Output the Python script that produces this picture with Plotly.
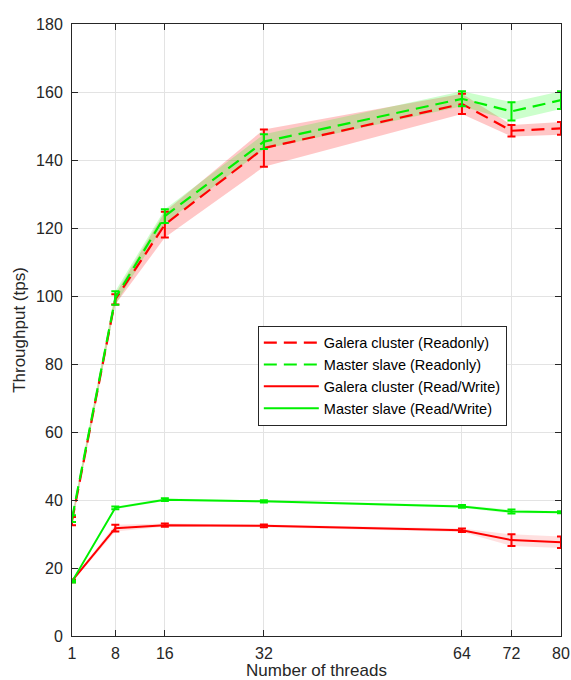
import plotly.graph_objects as go

threads = [1, 8, 16, 32, 64, 72, 80]
galera_ro = [33.8, 99.0, 121.0, 143.5, 156.5, 148.6, 149.3]
galera_ro_err = [1.2, 1.5, 3.8, 5.5, 3.0, 1.7, 1.9]
master_ro = [34.5, 99.4, 123.5, 145.4, 158.0, 154.3, 157.6]
master_ro_err = [1.0, 2.0, 2.0, 2.2, 2.2, 2.7, 2.6]
galera_rw = [16.2, 31.7, 32.6, 32.4, 31.1, 28.2, 27.6]
galera_rw_err = [0.4, 1.0, 0.5, 0.4, 0.5, 1.7, 1.7]
master_rw = [16.0, 37.7, 40.1, 39.6, 38.1, 36.6, 36.4]
master_rw_err = [0.3, 0.4, 0.4, 0.3, 0.4, 0.6, 0.3]

RED = "#ff0000"
GREEN = "#00f000"
series = [
    ("Galera cluster (Readonly)", galera_ro, galera_ro_err, RED, "rgba(255,0,0,0.22)", "13px,7px", 2.2),
    ("Master slave (Readonly)", master_ro, master_ro_err, GREEN, "rgba(0,255,0,0.2)", "13px,7px", 2.2),
    ("Galera cluster (Read/Write)", galera_rw, galera_rw_err, RED, "rgba(255,0,0,0.12)", "solid", 2),
    ("Master slave (Read/Write)", master_rw, master_rw_err, GREEN, "rgba(0,255,0,0.12)", "solid", 2),
]

FONT = "Liberation Sans, Arial, sans-serif"
fig = go.Figure()
# shaded error bands
for name, y, e, col, fill, dash, w in series:
    upper = [a + b for a, b in zip(y, e)]
    lower = [a - b for a, b in zip(y, e)]
    fig.add_trace(go.Scatter(x=threads + threads[::-1], y=upper + lower[::-1],
                             fill="toself", fillcolor=fill, line=dict(width=0),
                             mode="lines", showlegend=False, hoverinfo="skip"))
# mean lines with error bars
for name, y, e, col, fill, dash, w in series:
    fig.add_trace(go.Scatter(x=threads, y=y, mode="lines", name=name,
                             line=dict(color=col, width=w, dash=dash),
                             error_y=dict(type="data", array=e, visible=True,
                                          color=col, thickness=2, width=4)))

axis_common = dict(showline=True, linecolor="#262626", linewidth=1, mirror="ticks",
                   ticks="inside", ticklen=6, tickcolor="#262626", automargin=False,
                   showgrid=True, gridcolor="#e3e3e3", gridwidth=1, zeroline=False,
                   tickfont=dict(family=FONT, size=16, color="#262626"))

fig.update_layout(
    width=571, height=680,
    margin=dict(l=72, r=10, t=24, b=44),
    paper_bgcolor="white", plot_bgcolor="white",
    xaxis=dict(range=[1, 80], tickvals=threads, ticktext=[str(t) for t in threads],
               ticklabelstandoff=3,
               title=dict(text="Number of threads", standoff=0,
                          font=dict(family=FONT, size=17, color="#262626")),
               **axis_common),
    yaxis=dict(range=[0, 180], tickvals=list(range(0, 181, 20)),
               ticklabelstandoff=5,
               title=dict(text="Throughput (tps)", standoff=6,
                          font=dict(family=FONT, size=17, color="#262626")),
               **axis_common),
    legend=dict(x=0.38, y=0.507, xanchor="left", yanchor="top",
                bordercolor="#262626", borderwidth=1, bgcolor="white",
                font=dict(family=FONT, size=14.5, color="black"),
                tracegroupgap=0, itemwidth=55),
    showlegend=True,
)

fig.write_html("out.html", config={"displayModeBar": False},
               post_script="document.body.style.margin='0';document.body.style.overflow='hidden';")
